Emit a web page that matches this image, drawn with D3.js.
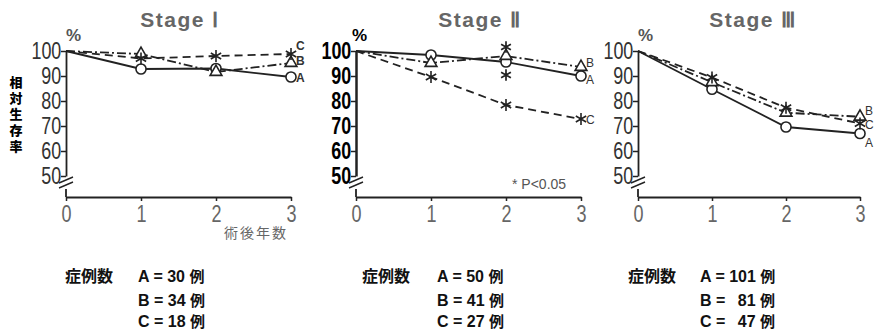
<!doctype html>
<html>
<head>
<meta charset="utf-8">
<script src="https://d3js.org/d3.v7.min.js"></script>
<style>
  body { margin: 0; background: #fff; }
  text { font-family: "Liberation Sans", sans-serif; }
</style>
</head>
<body>
<script>
// data
var years = [0, 1, 2, 3];
var stages = ["Stage Ⅰ", "Stage Ⅱ", "Stage Ⅲ"];
var yTicks = [50, 60, 70, 80, 90, 100];

var stage1A = [100, 92.8, 93.0, 89.6];
var stage1B = [100, 98.8, 91.6, 95.2];
var stage1C = [100, 97.0, 98.0, 98.8];

var stage2A = [100, 98.4, 95.6, 90.0];
var stage2B = [100, 95.2, 98.0, 93.6];
var stage2C = [100, 89.6, 78.4, 72.8];

var stage3A = [100, 84.7, 69.6, 67.0];
var stage3B = [100, 87.5, 75.3, 73.7];
var stage3C = [100, 89.4, 77.3, 71.0];

var casesA = [30, 50, 101];
var casesB = [34, 41, 81];
var casesC = [18, 27, 47];

var svg = d3.select("body").append("svg")
    .attr("width", 878).attr("height", 336);

var ink = "#222";
var panelX = [66, 356, 638];
var panelW = [225, 225, 222];
var titleX = [180, 480, 753];
var axisY = 197;

var y = d3.scaleLinear().domain([50, 100]).range([176, 51]);

var seriesStyle = {
  A: { dash: null, sym: d3.symbolCircle, size: 80, fill: "#fff" },
  B: { dash: "9,3,2,3", sym: d3.symbolTriangle, size: 60, fill: "#fff" },
  C: { dash: "8,5", sym: d3.symbolAsterisk, size: 100, fill: "none" }
};

var allData = [
  { A: stage1A, B: stage1B, C: stage1C },
  { A: stage2A, B: stage2B, C: stage2C },
  { A: stage3A, B: stage3B, C: stage3C }
];

// where the end letters sit relative to the last point
var endLabelDy = [
  { A: 1, B: -2, C: -8 },
  { A: 4, B: -4, C: 1 },
  { A: 9, B: -6, C: 1 }
];

for (var p = 0; p < 3; p++) {
  var g = svg.append("g");
  var x = d3.scaleLinear().domain([0, 3]).range([panelX[p], panelX[p] + panelW[p]]);
  var x0 = panelX[p];
  var bold = (p == 1);

  // title
  g.append("text").attr("x", titleX[p]).attr("y", 27)
    .attr("text-anchor", "middle")
    .style("font-size", "21px").style("font-weight", "bold")
    .style("letter-spacing", "1.5px")
    .attr("fill", "#666").text(stages[p]);

  // percent sign
  g.append("text").attr("x", x0 + (p == 1 ? -4 : 0)).attr("y", 41)
    .style("font-size", "17px").style("font-weight", "bold")
    .attr("fill", p == 1 ? "#000" : "#555").text("%");

  // y axis with break
  var yAxis = d3.axisLeft(y).tickValues(yTicks).tickSize(5).tickSizeOuter(0).tickPadding(1);
  var ya = g.append("g").attr("transform", "translate(" + x0 + ",0)").call(yAxis);
  ya.select(".domain").attr("stroke", ink).attr("stroke-width", p == 1 ? 2.5 : 1.8);
  ya.selectAll(".tick line").attr("stroke", ink).attr("stroke-width", 1.5);
  ya.selectAll(".tick text")
    .attr("transform", "scale(0.78,1)")
    .style("font-size", "23px").style("font-weight", bold ? "bold" : "normal")
    .attr("fill", bold ? "#000" : "#333");

  g.append("line").attr("x1", x0).attr("x2", x0).attr("y1", 189).attr("y2", axisY)
    .attr("stroke", ink).attr("stroke-width", 1.8);
  [180, 185].forEach(function(by) {
    g.append("line").attr("x1", x0 - 7).attr("y1", by + 3).attr("x2", x0 + 7).attr("y2", by - 3)
      .attr("stroke", ink).attr("stroke-width", 1.4);
  });

  // x axis
  var xAxis = d3.axisBottom(x).tickValues(years).tickFormat(d3.format("d"))
    .tickSize(4).tickSizeOuter(0).tickPadding(4);
  var xa = g.append("g").attr("transform", "translate(0," + axisY + ")").call(xAxis);
  xa.select(".domain").attr("stroke", ink).attr("stroke-width", 1.8);
  xa.selectAll(".tick line").attr("stroke", ink).attr("stroke-width", 1.5);
  xa.selectAll(".tick text")
    .attr("transform", "scale(0.75,1)")
    .style("font-size", "24px").attr("fill", "#666");

  // series
  ["A", "B", "C"].forEach(function(k) {
    var vals = allData[p][k];
    var st = seriesStyle[k];
    var line = d3.line().x(function(d, i) { return x(years[i]); }).y(function(d) { return y(d); });
    g.append("path").datum(vals).attr("d", line)
      .attr("fill", "none").attr("stroke", ink).attr("stroke-width", 1.8)
      .attr("stroke-dasharray", st.dash);
    g.selectAll(null).data(vals.slice(1)).enter().append("path")
      .attr("d", d3.symbol().type(st.sym).size(st.size))
      .attr("transform", function(d, i) { return "translate(" + x(years[i + 1]) + "," + y(d) + ")"; })
      .attr("fill", st.fill).attr("stroke", ink).attr("stroke-width", 1.6);
    g.append("text")
      .attr("x", x(3) + 5).attr("y", y(vals[3]) + endLabelDy[p][k] + 4)
      .style("font-size", "12px").style("font-weight", p == 0 ? "bold" : "normal")
      .attr("fill", "#333").text(k);
  });

  // case counts
  var fx = [65, 362, 628][p];
  var fy = [282, 306, 327];
  g.append("text").attr("x", fx).attr("y", fy[0])
    .style("font-family", "'Noto Sans CJK JP', sans-serif")
    .style("font-size", "16px").style("font-weight", "bold")
    .attr("fill", "#111").text("症例数");
  var counts = [casesA[p], casesB[p], casesC[p]];
  ["A", "B", "C"].forEach(function(k, i) {
    var n = counts[i];
    var pad = (p == 2 && n < 100) ? "\u2002" : "";
    var t = g.append("text").attr("x", [138, 437, 700][p]).attr("y", fy[i])
      .style("font-size", "16px").style("font-weight", "bold").attr("fill", "#111");
    t.append("tspan").text(k + " = " + pad + n + " ");
    t.append("tspan").style("font-family", "'Noto Sans CJK JP', sans-serif")
      .style("font-size", "15px").text("例");
  });
}

// significance marks in Stage II
var x2 = d3.scaleLinear().domain([0, 3]).range([panelX[1], panelX[1] + panelW[1]]);
[stage2B[2] + 3.6, stage2A[2] - 5.2].forEach(function(v) {
  svg.append("path").attr("d", d3.symbol().type(d3.symbolAsterisk).size(90))
    .attr("transform", "translate(" + x2(2) + "," + y(v) + ")")
    .attr("fill", "none").attr("stroke", ink).attr("stroke-width", 1.7);
});
svg.append("text").attr("x", 512).attr("y", 189)
  .style("font-size", "14px").attr("fill", "#555").text("* P<0.05");

// axis titles
svg.append("text").attr("x", 256).attr("y", 238).attr("text-anchor", "middle")
  .style("font-family", "'Noto Sans CJK JP', sans-serif")
  .style("font-size", "14px").style("letter-spacing", "2px")
  .attr("fill", "#666").text("術後年数");

svg.append("text")
  .attr("transform", "translate(16,76)")
  .style("writing-mode", "vertical-rl")
  .style("font-family", "'Noto Sans CJK JP', sans-serif")
  .style("font-size", "13px").style("font-weight", "900")
  .style("letter-spacing", "3px")
  .attr("fill", "#000").text("相対生存率");
</script>
</body>
</html>
